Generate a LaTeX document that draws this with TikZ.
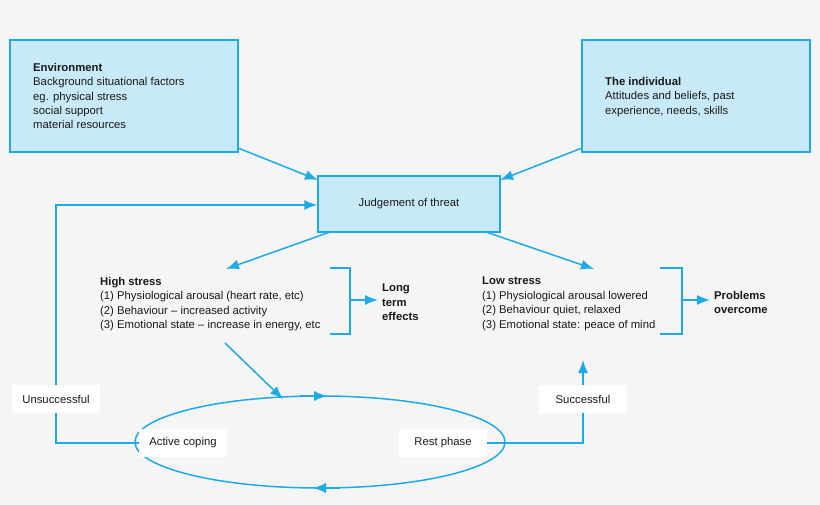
\documentclass[tikz,border=0pt]{standalone}
\usepackage{fontspec}
\setmainfont{Liberation Sans}
\usetikzlibrary{positioning,arrows.meta}
\definecolor{cyanline}{HTML}{1DAAE6}
\definecolor{cyanfill}{HTML}{C8EAF8}
\definecolor{bgrey}{HTML}{F5F5F5}
\begin{document}
\begin{tikzpicture}
		[x=1pt, y=-1pt, font=\fontsize{11.3}{14.4}\selectfont, text=black!90,
		box/.style={draw=cyanline, fill=cyanfill, line width=1.5pt, inner sep=0pt},
		link/.style={draw=cyanline, line width=1.5pt, -{Latex[length=13pt,width=10pt]}},
		plain/.style={draw=cyanline, line width=1.5pt},
		tag/.style={fill=white, inner sep=5pt, minimum height=28pt, minimum width=88pt},
		txt/.style={align=left, anchor=north west, inner sep=0pt}]
		\fill[bgrey] (0,0) rectangle (820,505);
		\useasboundingbox (0,0) rectangle (820,505);

		\node[box, minimum width=228pt, minimum height=112pt] (env) at (124,96) {};
		\node[txt] at (33,63) {\textbf{Environment}\\Background situational factors\\eg. physical stress\\social support\\material resources};
		\node[box, minimum width=228pt, minimum height=112pt] (ind) at (696,96) {};
		\node[txt] at (605,77) {\textbf{The individual}\\Attitudes and beliefs, past\\experience, needs, skills};
		\node[box, minimum width=182pt, minimum height=56pt] (judge) at (409,204) {Judgement of threat};

		\node[txt] (high) at (100,277) {\textbf{High stress}\\(1) Physiological arousal (heart rate, etc)\\(2) Behaviour -- increased activity\\(3) Emotional state -- increase in energy, etc};
		\node[txt] (long) at (382,284) {\textbf{Long}\\\textbf{term}\\\textbf{effects}};
		\node[txt] (low) at (482,277) {\textbf{Low stress}\\(1) Physiological arousal lowered\\(2) Behaviour quiet, relaxed\\(3) Emotional state: peace of mind};
		\node[txt] (done) at (714,291) {\textbf{Problems}\\\textbf{overcome}};

		% coping cycle
		\draw[plain] (320,442) ellipse (185pt and 46pt);
		\draw[link] (300,396) -- (327,396);
		\draw[link] (340,488) -- (313,488);
		\node[tag] (active) at (183,443) {Active coping};
		\node[tag] (rest) at (443,443) {Rest phase};

		\coordinate (hs) at (225,343);
		\coordinate (cyc) at (283,399);
		\coordinate (lowbot) at (583,360);
		\coordinate (lcorner) at (56,443);
		\coordinate (rcorner) at (583,443);

		\draw[link] (238,148) -- (318,180);
		\draw[link] (582,148) -- (500,180);
		\draw[link] (330,232) -- (226,269);
		\draw[link] (486,232) -- (594,269);
		\draw[link] (hs) -- (cyc);

		% brackets
		\draw[plain] (330,268) -- (350,268) -- (350,334) -- (330,334);
		\draw[link] (350,300) -- (378,300);
		\draw[plain] (660,268) -- (682,268) -- (682,334) -- (660,334);
		\draw[link] (682,300) -- (710,300);

		% loops
		\draw[link] (active.west) -- (lcorner) -- (56,205) -- (judge.west |- 0,205);
		\draw[link] (rest.east) -- (rcorner) -- (lowbot);
		\node[tag] (fail) at (56,399) {Unsuccessful};
		\node[tag] (win) at (583,399) {Successful};
	\end{tikzpicture}
\end{document}
